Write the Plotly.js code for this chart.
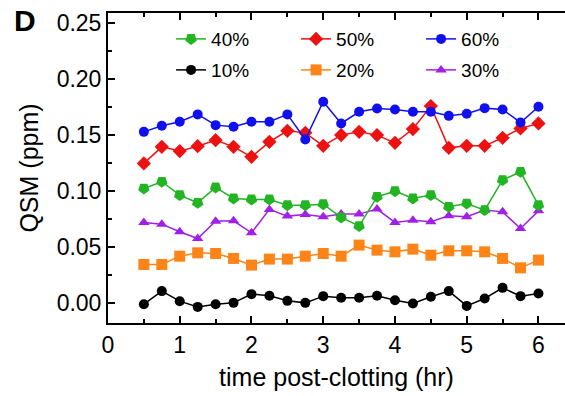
<!DOCTYPE html>
<html>
<head>
<meta charset="utf-8">
<script src="https://cdn.plot.ly/plotly-3.0.1.min.js"></script>
<style>html,body{margin:0;padding:0;background:#fff;}#chart{width:565px;height:396px;}</style>
</head>
<body>
<div id="chart"></div>
<script>
const timeHr = [0.5,0.75,1.0,1.25,1.5,1.75,2.0,2.25,2.5,2.75,3.0,3.25,3.5,3.75,4.0,4.25,4.5,4.75,5.0,5.25,5.5,5.75,6.0];
const seriesNames = ['10%','20%','30%','40%','50%','60%'];
const qsm10 = [-0.0012,0.0105,0.0015,-0.0036,-0.0012,0.0000,0.0078,0.0063,0.0018,0.0000,0.0060,0.0045,0.0045,0.0063,0.0024,-0.0005,0.0054,0.0105,-0.0027,0.0039,0.0134,0.0060,0.0084];
const qsm20 = [0.0343,0.0343,0.0417,0.0447,0.0441,0.0397,0.0337,0.0391,0.0391,0.0417,0.0441,0.0417,0.0516,0.0471,0.0456,0.0480,0.0426,0.0465,0.0465,0.0456,0.0397,0.0313,0.0382];
const qsm30 = [0.0719,0.0703,0.0635,0.0575,0.0730,0.0733,0.0626,0.0835,0.0775,0.0790,0.0769,0.0793,0.0793,0.0838,0.0719,0.0739,0.0724,0.0778,0.0769,0.0829,0.0813,0.0665,0.0822];
const qsm40 = [0.1022,0.1082,0.0963,0.0894,0.1031,0.0933,0.0924,0.0924,0.0873,0.0873,0.0882,0.0763,0.0686,0.0947,0.0998,0.0933,0.0963,0.0858,0.0888,0.0829,0.1097,0.1171,0.0873];
const qsm50 = [0.1246,0.1394,0.1356,0.1400,0.1454,0.1394,0.1305,0.1439,0.1537,0.1519,0.1403,0.1499,0.1528,0.1499,0.1430,0.1553,0.1758,0.1385,0.1403,0.1403,0.1475,0.1559,0.1603];
const qsm60 = [0.1528,0.1582,0.1618,0.1684,0.1588,0.1573,0.1618,0.1618,0.1684,0.1460,0.1797,0.1603,0.1707,0.1737,0.1728,0.1707,0.1707,0.1671,0.1689,0.1740,0.1728,0.1612,0.1752];
const yTickVals = [0, 0.05, 0.10, 0.15, 0.20, 0.25];
const xTickVals = [0, 1, 2, 3, 4, 5, 6];

const styles = [
  {color:'#000000', symbol:'circle', size:10, angle:0, legend:'legend2'},
  {color:'#ff8418', symbol:'square', size:11, angle:0, legend:'legend2'},
  {color:'#a020e8', symbol:'triangle-up', size:10, angle:0, legend:'legend2'},
  {color:'#22b422', symbol:'pentagon', size:12, angle:180, legend:'legend'},
  {color:'#ee1111', symbol:'diamond', size:11, angle:0, legend:'legend'},
  {color:'#1010ee', symbol:'circle', size:10, angle:0, legend:'legend'}
];
const allY = [qsm10, qsm20, qsm30, qsm40, qsm50, qsm60];

const traces = allY.map((ys, i) => ({
  x: timeHr, y: ys, name: seriesNames[i], type: 'scatter', mode: 'lines+markers',
  legend: styles[i].legend,
  line: {color: styles[i].color, width: 1.5},
  marker: {color: styles[i].color, symbol: styles[i].symbol, size: styles[i].size, angle: styles[i].angle}
}));

const font = 'Liberation Sans, Arial, sans-serif';
const legendX = 0.138;
const layout = {
  width: 565, height: 396,
  margin: {l: 108, r: 0, t: 13, b: 73},
  paper_bgcolor: '#fff', plot_bgcolor: '#fff',
  font: {family: font, color: '#000'},
  showlegend: true,
  xaxis: {
    range: [0, 6.37], tickvals: xTickVals, ticktext: xTickVals.map(String),
    showgrid: false, zeroline: false, showline: true, linecolor: '#000', linewidth: 2,
    mirror: 'ticks', ticks: 'inside', ticklen: 7, tickwidth: 2, tickcolor: '#000',
    minor: {dtick: 0.5, tick0: 0, ticks: 'inside', ticklen: 4, tickwidth: 2, tickcolor: '#000'},
    tickfont: {size: 23, family: font}, ticklabelstandoff: 0,
    title: {text: 'time post-clotting (hr)', font: {size: 25, family: font}, standoff: 12}
  },
  yaxis: {
    range: [-0.018, 0.259], tickvals: yTickVals, ticktext: yTickVals.map(v => v.toFixed(2)),
    showgrid: false, zeroline: false, showline: true, linecolor: '#000', linewidth: 2,
    ticks: 'inside', ticklen: 7, tickwidth: 2, tickcolor: '#000',
    minor: {dtick: 0.025, tick0: 0, ticks: 'inside', ticklen: 4, tickwidth: 2, tickcolor: '#000'},
    tickfont: {size: 23, family: font},
    title: {text: 'QSM (ppm)', font: {size: 25, family: font}, standoff: 11}
  },
  legend: {
    orientation: 'h', x: legendX, xanchor: 'left', y: 0.916, yanchor: 'middle',
    font: {size: 19, family: font}, bgcolor: 'rgba(0,0,0,0)', borderwidth: 0,
    entrywidth: 80, entrywidthmode: 'pixels', traceorder: 'normal'
  },
  legend2: {
    orientation: 'h', x: legendX, xanchor: 'left', y: 0.816, yanchor: 'middle',
    font: {size: 19, family: font}, bgcolor: 'rgba(0,0,0,0)', borderwidth: 0,
    entrywidth: 80, entrywidthmode: 'pixels', traceorder: 'normal'
  },
  annotations: [{
    text: '<b>D</b>', xref: 'paper', yref: 'paper', x: -108/457, y: (323-21)/310,
    xanchor: 'left', yanchor: 'middle', showarrow: false, xshift: 12,
    font: {size: 30, family: font, color: '#000'}
  }]
};

Plotly.newPlot('chart', traces, layout, {displayModeBar: false, staticPlot: true});
</script>
</body>
</html>
